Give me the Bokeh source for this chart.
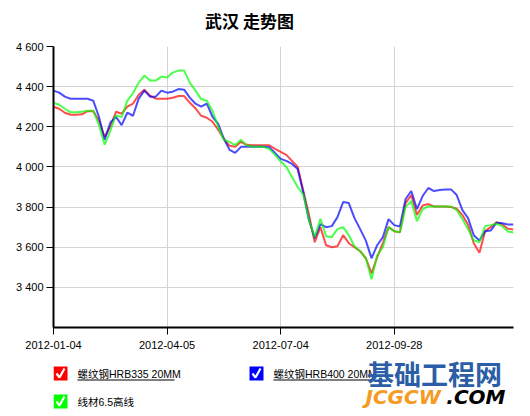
from bokeh.plotting import figure
from bokeh.layouts import column
from bokeh.models import Range1d, FixedTicker
from bokeh.core.properties import value
from bokeh.embed import file_html
from bokeh.resources import INLINE

title_text = "武汉 走势图"
series_names = ["螺纹钢HRB335 20MM", "螺纹钢HRB400 20MM", "线材6.5高线"]
series_colors = ["#ff0000", "#0000ff", "#00ff00"]

x_tick_positions = [0, 20, 40, 60]
x_tick_labels = ["2012-01-04", "2012-04-05", "2012-07-04", "2012-09-28"]
y_ticks = [3400, 3600, 3800, 4000, 4200, 4400, 4600]
y_tick_labels = ["3 400", "3 600", "3 800", "4 000", "4 200", "4 400", "4 600"]

hrb335 = [4300, 4290, 4270, 4260, 4260, 4262, 4278, 4278, 4230, 4150,
          4200, 4275, 4265, 4300, 4315, 4360, 4385, 4355, 4340, 4340,
          4340, 4345, 4353, 4353, 4320, 4292, 4255, 4245, 4225, 4185,
          4140, 4105, 4100, 4125, 4110, 4108, 4108, 4108, 4108, 4090,
          4075, 4060, 4030, 4000, 3880, 3760, 3625, 3700, 3610, 3600,
          3605, 3660, 3620, 3600, 3580, 3545, 3470, 3550, 3620, 3700,
          3680, 3675, 3820, 3860, 3760, 3808, 3815, 3803, 3803, 3803,
          3800, 3792, 3760, 3712, 3620, 3572, 3680, 3700, 3725, 3715,
          3692, 3688]

hrb400 = [4380, 4370, 4350, 4340, 4340, 4340, 4340, 4330, 4250, 4135,
          4220, 4250, 4208, 4270, 4255, 4340, 4380, 4350, 4350, 4380,
          4370, 4375, 4388, 4385, 4345, 4315, 4300, 4315, 4250, 4215,
          4140, 4085, 4070, 4100, 4100, 4100, 4100, 4100, 4098, 4070,
          4040, 4030, 4015, 3990, 3870, 3733, 3645, 3715, 3700, 3705,
          3750, 3825, 3820, 3745, 3690, 3633, 3545, 3610, 3650, 3740,
          3710, 3703, 3840, 3880, 3790, 3855, 3895, 3880, 3885, 3888,
          3888, 3860, 3785, 3745, 3660, 3633, 3680, 3683, 3722, 3720,
          3713, 3713]

wire65 = [4320, 4310, 4290, 4272, 4272, 4275, 4280, 4280, 4210, 4110,
          4180, 4258, 4248, 4330, 4367, 4420, 4455, 4430, 4430, 4450,
          4445, 4470, 4480, 4480, 4420, 4380, 4338, 4330, 4280, 4200,
          4135, 4125, 4108, 4135, 4108, 4100, 4100, 4100, 4090, 4060,
          4028, 4000, 3950, 3900, 3860, 3733, 3650, 3742, 3655, 3650,
          3690, 3700, 3660, 3605, 3580, 3545, 3440, 3560, 3600, 3700,
          3680, 3675, 3800, 3830, 3730, 3790, 3803, 3803, 3803, 3803,
          3803, 3785, 3740, 3690, 3635, 3625, 3705, 3710, 3717, 3705,
          3678, 3673]

series = [hrb335, hrb400, wire65]
xs = list(range(len(hrb335)))

FONT = "'Liberation Sans', 'Noto Sans CJK SC', sans-serif"
W = 530
FRAME_L, FRAME_R = 53, 513   # page x of the chart's plotting area (column aligns frames)
HEAD_H, MAIN_H = 36, 317
LEG_TOP = HEAD_H + MAIN_H
LEG_H = 416 - LEG_TOP


def pixel_fig(h, top):
    f = figure(width=W, height=h, output_backend="svg", toolbar_location=None,
               x_range=Range1d(FRAME_L, FRAME_R), y_range=Range1d(top + h, top),
               x_axis_type=None, y_axis_type=None,
               min_border_left=FRAME_L, min_border_right=W - FRAME_R,
               min_border_top=0, min_border_bottom=0)
    f.outline_line_color = None
    f.xgrid.visible = False
    f.ygrid.visible = False
    return f


# ---- header (title) ----
head = pixel_fig(HEAD_H, 0)
head.text(x=[249], y=[20], text=[title_text], text_font=value("Noto Sans CJK SC"),
          text_font_style="bold", text_font_size="17px", text_color="black",
          text_align="center", text_baseline="middle")

# ---- main chart ----
p = figure(width=W, height=MAIN_H, output_backend="svg", toolbar_location=None,
           x_range=Range1d(0, len(xs) - 1), y_range=Range1d(3200, 4600),
           min_border_left=FRAME_L, min_border_right=W - FRAME_R,
           min_border_top=10, min_border_bottom=26)
p.outline_line_color = None

for data, color in zip(series, series_colors):
    p.line(xs, data, line_color=color, line_width=2, line_alpha=0.7)

for ax in (p.xaxis[0], p.yaxis[0]):
    ax.axis_line_width = 2
    ax.axis_line_color = "black"
    ax.major_tick_out = 7
    ax.major_tick_in = 0
    ax.major_tick_line_color = "black"
    ax.major_tick_line_width = 1
    ax.minor_tick_line_color = None
    ax.major_label_text_font = FONT
    ax.major_label_text_font_size = "11px"
    ax.major_label_text_color = "black"

p.xaxis.ticker = FixedTicker(ticks=x_tick_positions)
p.xaxis.major_label_overrides = dict(zip(x_tick_positions, x_tick_labels))
p.xaxis.major_label_standoff = 6
p.yaxis.ticker = FixedTicker(ticks=y_ticks)
p.yaxis.major_label_overrides = dict(zip(y_ticks, y_tick_labels))
p.yaxis.major_label_standoff = 3

p.xgrid.grid_line_color = "#d4d4d4"
p.ygrid.grid_line_color = "#d4d4d4"

# ---- legend (checkbox style) + watermark ----
leg = pixel_fig(LEG_H, LEG_TOP)
sq_left = [53, 249, 53]
sq_top = [366, 366, 394]
leg.quad(left=sq_left, right=[v + 14 for v in sq_left], top=sq_top,
         bottom=[v + 14 for v in sq_top], fill_color=series_colors, line_color=None)
leg.multi_line(xs=[[v + 3, v + 6, v + 11] for v in sq_left],
               ys=[[v + 7, v + 11, v + 2] for v in sq_top],
               line_color="white", line_width=2.2)
leg.text(x=[v + 24 for v in sq_left], y=[v + 7.5 for v in sq_top], text=series_names,
         text_font=value(FONT), text_font_size="10.5px", text_color="black",
         text_align="left", text_baseline="middle")
leg.segment(x0=[77, 273], y0=[379.5, 379.5], x1=[174, 372], y1=[379.5, 379.5],
            line_color="black", line_width=1)

leg.text(x=[434], y=[LEG_TOP + 0.5], text=["基础工程网"], text_font=value("Noto Sans CJK SC"),
         text_font_style="bold", text_font_size="27px", text_color="#2b5ea6",
         text_align="center", text_baseline="top")
leg.text(x=[365], y=[396], text=["JCGCW"], text_font=value("DejaVu Sans"),
         text_font_style="bold italic", text_font_size="20px", text_color="#f59a23",
         text_align="left", text_baseline="middle")
leg.text(x=[505], y=[396], text=[".COM"], text_font=value("DejaVu Sans"),
         text_font_style="bold italic", text_font_size="20px", text_color="black",
         text_align="right", text_baseline="middle")

layout = column(head, p, leg, spacing=0)
open("out.html", "w").write(file_html(layout, INLINE))
